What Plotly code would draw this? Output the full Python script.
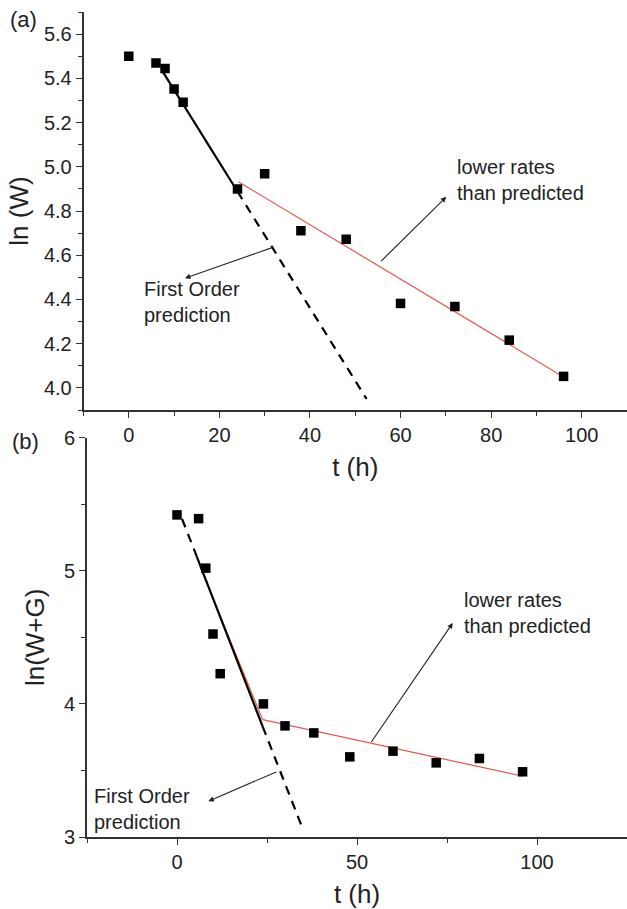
import plotly.graph_objects as go

# ---- data: panel (a) ----
t_a = [0, 6, 8, 10, 12, 24, 30, 38, 48, 60, 72, 84, 96]
lnW = [5.50, 5.469, 5.445, 5.352, 5.292, 4.90, 4.969, 4.711, 4.672, 4.382, 4.368, 4.216, 4.052]
fo_a_solid_t = [7.6, 24.0]
fo_a_solid_y = [5.427, 4.888]
fo_a_dash_t = [24.0, 52.5]
fo_a_dash_y = [4.888, 3.95]
red_a_t = [24.2, 95.8]
red_a_y = [4.932, 4.052]

# ---- data: panel (b) ----
t_b = [0, 6, 8, 10, 12, 24, 30, 38, 48, 60, 72, 84, 96]
lnWG = [5.42, 5.392, 5.02, 4.525, 4.227, 4.00, 3.835, 3.782, 3.602, 3.645, 3.557, 3.59, 3.49]
fo_b_dash1_t = [1.4, 5.5]
fo_b_dash1_y = [5.39, 5.107]
fo_b_solid_t = [5.5, 23.8]
fo_b_solid_y = [5.107, 3.83]
fo_b_dash2_t = [23.8, 34.8]
fo_b_dash2_y = [3.83, 3.07]
red_b_early_t = [6.4, 23.8]
red_b_early_y = [5.03, 3.88]
red_b_t = [23.8, 96]
red_b_y = [3.882, 3.457]

FONT = "Liberation Sans, Arial, sans-serif"
AX = "#333333"
RED = "#e5574f"

fig = go.Figure()

def line(x, y, xa, ya, color="black", width=2, dash="solid"):
    fig.add_trace(go.Scatter(x=x, y=y, mode="lines", xaxis=xa, yaxis=ya,
                             line=dict(color=color, width=width, dash=dash),
                             showlegend=False, hoverinfo="skip"))

def pts(x, y, xa, ya):
    fig.add_trace(go.Scatter(x=x, y=y, mode="markers", xaxis=xa, yaxis=ya,
                             marker=dict(symbol="square", size=9.5, color="black"),
                             showlegend=False))

# panel a
line(red_a_t, red_a_y, "x", "y", color=RED, width=1.2)
line(fo_a_solid_t, fo_a_solid_y, "x", "y", width=2.2)
line(fo_a_dash_t, fo_a_dash_y, "x", "y", width=2.2, dash="9px,7px")
pts(t_a, lnW, "x", "y")

# panel b
line(red_b_early_t, red_b_early_y, "x2", "y2", color=RED, width=1.2)
line(red_b_t, red_b_y, "x2", "y2", color=RED, width=1.2)
line(fo_b_dash1_t, fo_b_dash1_y, "x2", "y2", width=2.2, dash="9px,7px")
line(fo_b_solid_t, fo_b_solid_y, "x2", "y2", width=2.2)
line(fo_b_dash2_t, fo_b_dash2_y, "x2", "y2", width=2.2, dash="9px,7px")
pts(t_b, lnWG, "x2", "y2")

TICKFONT = dict(family=FONT, size=20, color="#222")
TITLEFONT = dict(family=FONT, size=26, color="#222")
axis_common = dict(showline=True, linecolor=AX, linewidth=1.6, showgrid=False,
                   zeroline=False, ticks="outside", ticklen=6, tickwidth=1.4,
                   tickcolor=AX, tickfont=TICKFONT, mirror=False, automargin=False)

fig.update_layout(
    width=627, height=909,
    margin=dict(l=0, r=0, t=0, b=0),
    paper_bgcolor="white", plot_bgcolor="white",
    font=dict(family=FONT, color="#222"),
    xaxis=dict(axis_common, domain=[83.5/627, 1.0], range=[-10, 110],
               tickvals=[0, 20, 40, 60, 80, 100], anchor="y",
               minor=dict(ticks="outside", ticklen=4, tickwidth=1.2, tickcolor=AX, dtick=10, tick0=0),
               title=dict(text="t (h)", font=TITLEFONT, standoff=13)),
    yaxis=dict(axis_common, domain=[1-410/909, 1-12/909], range=[3.9, 5.7],
               tickvals=[4.0, 4.2, 4.4, 4.6, 4.8, 5.0, 5.2, 5.4, 5.6], tickformat=".1f",
               anchor="x",
               minor=dict(ticks="outside", ticklen=4, tickwidth=1.2, tickcolor=AX, dtick=0.1, tick0=0),
               title=dict(text="ln (W)", font=TITLEFONT, standoff=8)),
    xaxis2=dict(axis_common, domain=[87/627, 1.0], range=[-25, 125],
                tickvals=[0, 50, 100], anchor="y2",
                minor=dict(ticks="outside", ticklen=4, tickwidth=1.2, tickcolor=AX, dtick=25, tick0=0),
                title=dict(text="t (h)", font=TITLEFONT, standoff=16)),
    yaxis2=dict(axis_common, domain=[1-837/909, 1-437.7/909], range=[3, 6],
                tickvals=[3, 4, 5, 6], anchor="x2",
                minor=dict(ticks="outside", ticklen=4, tickwidth=1.2, tickcolor=AX, dtick=0.5, tick0=0),
                title=dict(text="ln(W+G)", font=TITLEFONT, standoff=12)),
)

ann_font = dict(family=FONT, size=20, color="#222")
annotations = [
    # panel a arrows
    dict(x=12.4, y=4.496, ax=32.3, ay=4.639, xref="x", yref="y", axref="x", ayref="y",
         showarrow=True, arrowhead=2, arrowsize=1, arrowwidth=1.1, arrowcolor="#222", text=""),
    dict(x=70.1, y=4.864, ax=55.4, ay=4.567, xref="x", yref="y", axref="x", ayref="y",
         showarrow=True, arrowhead=2, arrowsize=1, arrowwidth=1.1, arrowcolor="#222", text=""),
    dict(x=3.0, y=4.39, xref="x", yref="y", text="First Order<br>prediction", showarrow=False,
         xanchor="left", yanchor="middle", align="left", font=ann_font),
    dict(x=72.0, y=4.94, xref="x", yref="y", text="lower rates<br>than predicted", showarrow=False,
         xanchor="left", yanchor="middle", align="left", font=ann_font),
    # panel b arrows
    dict(x=8.7, y=3.269, ax=28.0, ay=3.494, xref="x2", yref="y2", axref="x2", ayref="y2",
         showarrow=True, arrowhead=2, arrowsize=1, arrowwidth=1.1, arrowcolor="#222", text=""),
    dict(x=76.6, y=4.608, ax=53.7, ay=3.702, xref="x2", yref="y2", axref="x2", ayref="y2",
         showarrow=True, arrowhead=2, arrowsize=1, arrowwidth=1.1, arrowcolor="#222", text=""),
    dict(x=-23.6, y=3.207, xref="x2", yref="y2", text="First Order<br>prediction", showarrow=False,
         xanchor="left", yanchor="middle", align="left", font=ann_font),
    dict(x=79.2, y=4.685, xref="x2", yref="y2", text="lower rates<br>than predicted", showarrow=False,
         xanchor="left", yanchor="middle", align="left", font=ann_font),
    # panel labels
    dict(x=8/627, y=1-20/909, xref="paper", yref="paper", text="(a)", showarrow=False,
         xanchor="left", yanchor="middle", font=dict(family=FONT, size=22, color="#222")),
    dict(x=10/627, y=1-441/909, xref="paper", yref="paper", text="(b)", showarrow=False,
         xanchor="left", yanchor="middle", font=dict(family=FONT, size=22, color="#222")),
]
fig.update_layout(annotations=annotations)

fig.write_html("out.html", config={"displayModeBar": False},
               post_script="document.body.style.margin='0';document.body.style.overflow='hidden';")
